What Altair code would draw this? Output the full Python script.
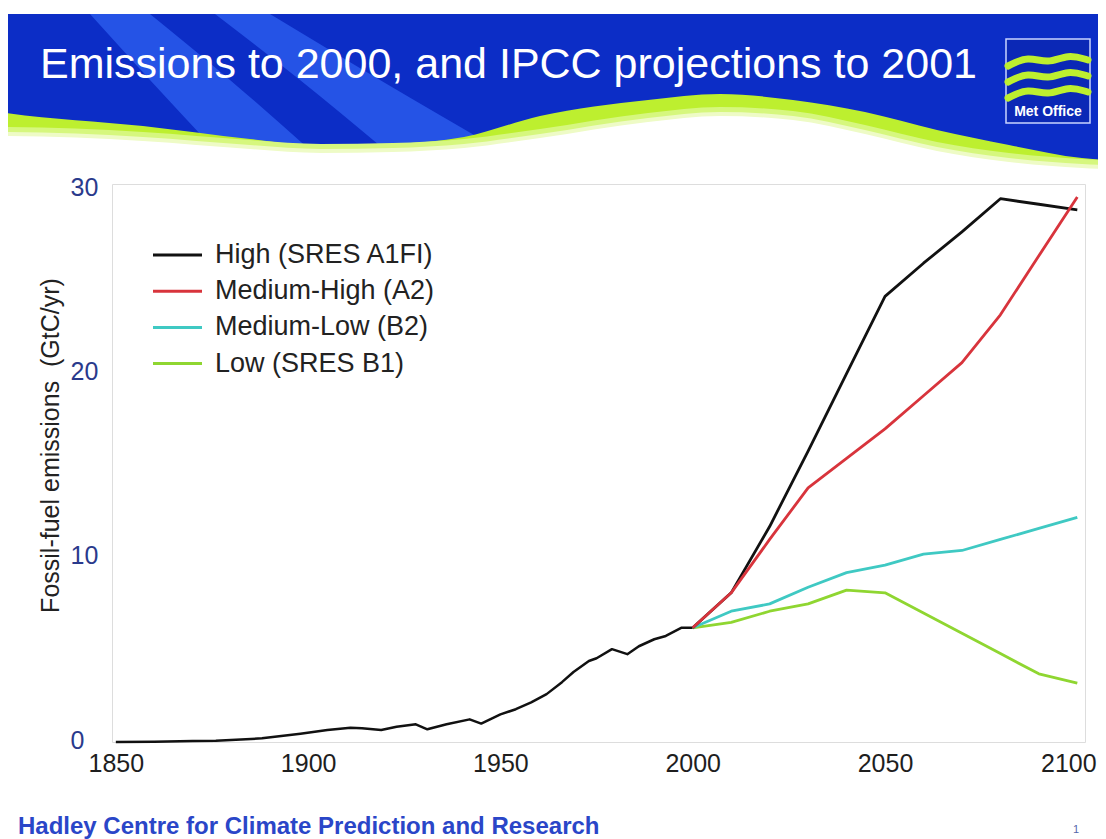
import altair as alt
import pandas as pd

# ---------------- chart data ----------------
hist_years = [1850, 1860, 1870, 1876, 1888, 1898, 1905, 1911, 1914, 1919, 1923, 1928,
              1931, 1936, 1942, 1945, 1950, 1954, 1958, 1962, 1966, 1969, 1973, 1975,
              1979, 1983, 1986, 1990, 1993, 1997, 2000]
hist_values = [0.0, 0.02, 0.05, 0.07, 0.2, 0.45, 0.65, 0.78, 0.75, 0.65, 0.83, 0.96,
               0.69, 0.96, 1.23, 1.0, 1.5, 1.78, 2.15, 2.6, 3.25, 3.8, 4.4, 4.55,
               5.04, 4.77, 5.2, 5.58, 5.76, 6.2, 6.2]

proj_years = [2000, 2010, 2020, 2030, 2040, 2050, 2060, 2070, 2080, 2090, 2100]
high_a1fi = [6.2, 8.1, 11.7, 15.8, 20.0, 24.2, 26.0, 27.7, 29.5, 29.2, 28.9]
med_high_a2 = [6.2, 8.1, 11.0, 13.8, 15.4, 17.0, 18.8, 20.6, 23.2, 26.4, 29.6]
med_low_b2 = [6.2, 7.1, 7.5, 8.4, 9.2, 9.6, 10.2, 10.4, 11.0, 11.6, 12.2]
low_b1 = [6.2, 6.5, 7.1, 7.5, 8.25, 8.1, 7.0, 5.9, 4.8, 3.7, 3.2]

series_names = ["High (SRES A1FI)", "Medium-High (A2)", "Medium-Low (B2)", "Low (SRES B1)"]
series_colors = ["#111111", "#d8343c", "#3fc9c3", "#8fd631"]
observed_name = "Observed"
observed_color = "#111111"

x_ticks = [1850, 1900, 1950, 2000, 2050, 2100]
y_ticks = [0, 10, 20, 30]

title_text = "Emissions to 2000, and IPCC projections to 2001"
y_title = "Fossil-fuel emissions\u00a0\u00a0(GtC/yr)"
footer_text = "Hadley Centre for Climate Prediction and Research"
logo_text = "Met Office"
page_number = "1"

# ---------------- slide decoration (page pixels) ----------------
wave_x = [0, 7, 143, 250, 321, 393, 464, 540, 648, 720, 793, 865, 937, 1009, 1082, 1106]
wave_upper = [112, 113, 126, 139, 146, 144, 137, 116, 100, 94, 100, 112, 130, 145, 158, 160]
wave_lower = [134, 134, 139, 147, 151, 150, 146, 136, 120, 114, 118, 132, 149, 160, 166, 167]

swoosh_a = {"y": [14, 80, 150], "l": [90, 150, 215], "r": [150, 230, 310]}
swoosh_b = {"y": [14, 80, 150], "l": [215, 300, 385], "r": [270, 380, 500]}

logo_wave_dx = [0, 20, 40, 60, 80]
logo_wave_dy = [6, -4, 4, -6, 0]
logo_wave_base = [60, 76, 92]

# ---------------- layout ----------------
W, H = 973, 558
LEFT, TOP = 112, 184
TOTAL_W, TOTAL_H = 1090, 831
PAD = {"left": LEFT - 8, "top": TOP - 8, "right": TOTAL_W - (LEFT - 8) - W,
       "bottom": TOTAL_H - (TOP - 8) - H}

BLUE = "#0c2dc6"
LIGHT_BLUE = "#2553e6"
LIME = "#bdef2f"
FONT = "Liberation Sans"

one = pd.DataFrame({"k": [0]})

def px(v):
    return v - LEFT

def py(v):
    return v - TOP

# ---------------- decoration layers ----------------
banner = alt.Chart(one).mark_rect(color=BLUE).encode(
    x=alt.value(-(LEFT - 8)), x2=alt.value(TOTAL_W - (LEFT - 8)),
    y=alt.value(py(14)), y2=alt.value(py(170)))

def swoosh(s):
    df = pd.DataFrame({"y": [py(v) for v in s["y"]],
                       "xl": [px(v) for v in s["l"]],
                       "xr": [px(v) for v in s["r"]]})
    return alt.Chart(df).mark_area(orient="horizontal", color=LIGHT_BLUE,
                                   interpolate="monotone").encode(
        y=alt.Y("y:Q", scale=None, axis=None),
        x=alt.X("xl:Q", scale=None, axis=None),
        x2="xr:Q")

wave_df = pd.DataFrame({"x": [px(v) for v in wave_x],
                        "yu": [py(v) for v in wave_upper],
                        "yl": [py(v) for v in wave_lower]})
wave_df["yl_a"] = wave_df["yl"] - 7
wave_df["yl_b"] = wave_df["yl"] - 2
wave_df["yl_c"] = wave_df["yl"] + 2

def wave_layer(field, color):
    return alt.Chart(wave_df).mark_area(color=color, interpolate="monotone").encode(
        x=alt.X("x:Q", scale=None, axis=None),
        y=alt.Y(field + ":Q", scale=None, axis=None),
        y2=alt.value(py(173)))

lime = wave_layer("yu", LIME)
pale1 = wave_layer("yl_a", "#d6f77e")
pale2 = wave_layer("yl_b", "#eefbc6")
white = wave_layer("yl_c", "#ffffff")

logo_box = alt.Chart(one).mark_rect(color="#0b28b6", stroke="#c9d3ff", strokeWidth=1.5).encode(
    x=alt.value(px(1006)), x2=alt.value(px(1090)),
    y=alt.value(py(39)), y2=alt.value(py(123)))

lw_rows = []
for k, b in enumerate(logo_wave_base):
    for dx, dy in zip(logo_wave_dx, logo_wave_dy):
        lw_rows.append({"k": k, "x": px(1008 + dx), "y": py(b + dy)})
logo_waves = alt.Chart(pd.DataFrame(lw_rows)).mark_line(
    color=LIME, strokeWidth=7, interpolate="basis", strokeCap="round").encode(
    x=alt.X("x:Q", scale=None, axis=None),
    y=alt.Y("y:Q", scale=None, axis=None),
    detail="k:N")

def text_layer(txt, x, y, **kw):
    return alt.Chart(pd.DataFrame({"t": [txt]})).mark_text(font=FONT, **kw).encode(
        x=alt.value(x), y=alt.value(y), text="t:N")

title = text_layer(title_text, px(40), py(78), fontSize=43, color="white",
                   align="left", baseline="alphabetic")
logo_label = text_layer(logo_text, px(1048), py(112), fontSize=14, fontWeight="bold",
                        color="white", align="center", baseline="middle")
footer = text_layer(footer_text, px(18), py(834), fontSize=24, fontWeight="bold",
                    color="#2a46c8", align="left", baseline="alphabetic")
page_no = text_layer(page_number, px(1076), py(833), fontSize=11, color="#5566aa",
                     align="center", baseline="alphabetic")

# ---------------- data layers ----------------
color_scale = alt.Scale(domain=series_names + [observed_name],
                        range=series_colors + [observed_color])
x_scale = alt.Scale(domain=[1849, 2102], nice=False, zero=False)
y_scale = alt.Scale(domain=[0, 30.3], nice=False, zero=False)

x_axis = alt.Axis(values=x_ticks, format="d", title=None, grid=False, ticks=False,
                  tickSize=0, domain=False, labelFontSize=25, labelColor="#1e1e1e",
                  labelFont=FONT, labelPadding=9, labelBaseline="top",
                  labelOffset={"condition": {"test": "datum.value == 2100", "value": -9},
                               "value": 0},
                  labelFlush=False, labelOverlap=False, zindex=1)
y_axis = alt.Axis(values=y_ticks, title=y_title, grid=False, ticks=False, tickSize=0,
                  domain=False, labelFontSize=25, labelColor="#2a3a8c", labelFont=FONT,
                  labelAlign="left", labelPadding=42, labelBaseline="middle",
                  labelOffset=-2, titleFontSize=25, titleFont=FONT, titleColor="#222222",
                  titleFontWeight="normal", titleX=-62, titleY=261, titleAngle=270,
                  titleBaseline="middle", titleAlign="center", zindex=1)

def enc(chart):
    return chart.encode(
        x=alt.X("year:Q", scale=x_scale, axis=x_axis),
        y=alt.Y("value:Q", scale=y_scale, axis=y_axis),
        color=alt.Color("series:N", scale=color_scale, legend=None))

hist_df = pd.DataFrame({"year": hist_years, "value": hist_values, "series": observed_name})
hist = enc(alt.Chart(hist_df).mark_line(strokeWidth=2.5, strokeJoin="round"))

proj_values = [high_a1fi, med_high_a2, med_low_b2, low_b1]
proj_layers = []
for i in [3, 2, 0, 1]:
    df = pd.DataFrame({"year": proj_years, "value": proj_values[i], "series": series_names[i]})
    proj_layers.append(enc(alt.Chart(df).mark_line(strokeWidth=2.8, strokeJoin="round")))

# ---------------- legend (inside plot) ----------------
legend_df = pd.DataFrame({"series": series_names,
                          "ly": [py(255) + 36.2 * i for i in range(len(series_names))]})
legend_lines = alt.Chart(legend_df).mark_rule(strokeWidth=3).encode(
    x=alt.value(px(153)), x2=alt.value(px(202)),
    y=alt.Y("ly:Q", scale=None, axis=None),
    color=alt.Color("series:N", scale=color_scale, legend=None))
legend_text = alt.Chart(legend_df).mark_text(
    font=FONT, fontSize=27, color="#222222", align="left", baseline="middle").encode(
    x=alt.value(px(215)), y=alt.Y("ly:Q", scale=None, axis=None), text="series:N")

chart = alt.layer(
    banner, swoosh(swoosh_a), swoosh(swoosh_b), lime, pale1, pale2, white,
    logo_box, logo_waves, logo_label, title,
    hist, *proj_layers,
    legend_lines, legend_text, footer, page_no
).properties(
    width=W, height=H, padding=PAD,
    autosize=alt.AutoSizeParams(type="none"),
    background="white"
).configure_view(
    stroke="#8c8c8c", strokeWidth=2
).configure(font=FONT)

chart.save("out.html", embed_options={"renderer": "svg", "actions": False})
